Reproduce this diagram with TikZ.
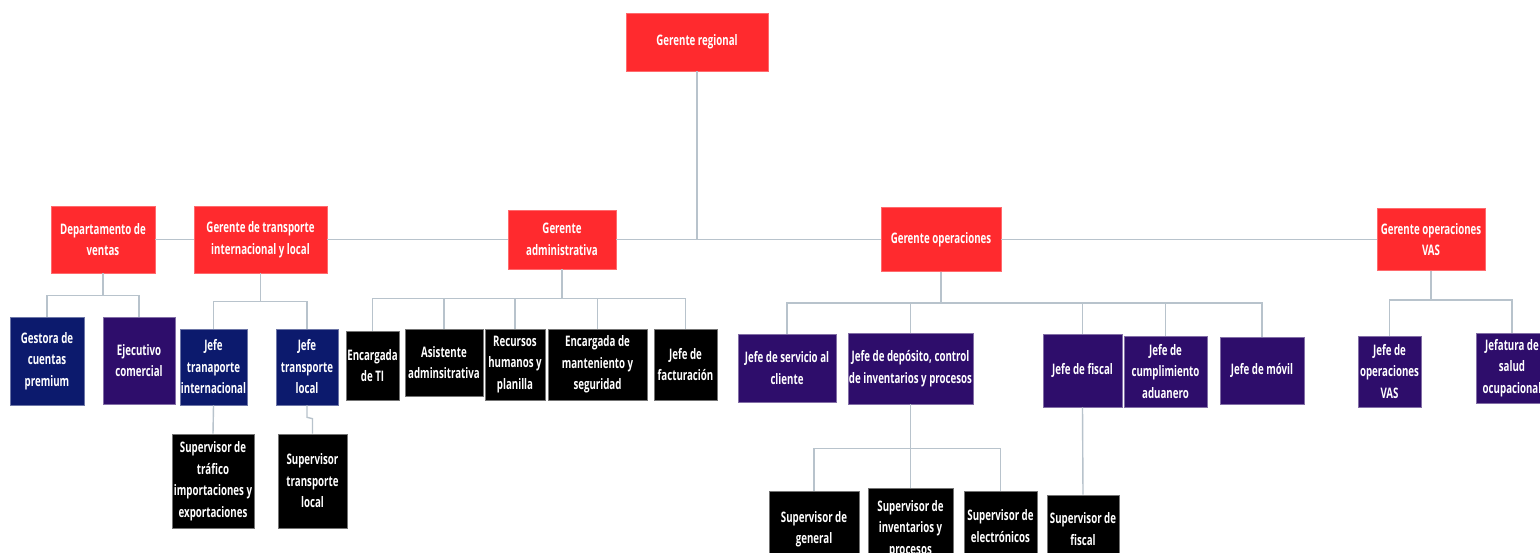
\documentclass[tikz,border=0pt]{standalone}
\usepackage{fontspec}
\setmainfont{Open Sans}[FakeStretch=0.67]
\begin{document}
\definecolor{mgrred}{HTML}{FF2A2E}
\definecolor{navyb}{HTML}{0C1A6D}
\definecolor{purpb}{HTML}{2E0D6B}
\definecolor{linec}{HTML}{B8C3CC}
\tikzset{
  box/.style={rectangle, inner sep=0pt, align=center, text=white,
    font=\fontsize{14.5}{21.5}\selectfont\bfseries, line width=0.6pt},
  redbox/.style={box, fill=mgrred, draw=mgrred!70!white},
  navybox/.style={box, fill=navyb, draw=navyb!60!white},
  purpbox/.style={box, fill=purpb, draw=purpb!60!white},
  blackbox/.style={box, fill=black, draw=black!55!white},
  conn/.style={draw=linec, line width=1.4pt},
}
\begin{tikzpicture}[x=1pt,y=-1pt]
\useasboundingbox (0,0) rectangle (1540,552);
\fill[white] (0,0) rectangle (1540,552);
\clip (0,0) rectangle (1540,552);

% top and management row
\node[redbox, minimum width=142, minimum height=58] (reg) at (697,42) {Gerente regional};
\node[redbox, minimum width=104, minimum height=67] (ventas) at (103,239.5) {Departamento de\\ventas};
\node[redbox, minimum width=133, minimum height=67] (transp) at (260.5,239.5) {Gerente de transporte\\internacional y local};
\node[redbox, minimum width=108, minimum height=59] (admin) at (562,239.5) {Gerente\\administrativa};
\node[redbox, minimum width=120, minimum height=64] (ops) at (941,239.5) {Gerente operaciones};
\node[redbox, minimum width=108, minimum height=62] (vas) at (1431,239.5) {Gerente operaciones\\VAS};

% sales
\node[navybox, minimum width=74, minimum height=88] (gestora) at (47,361) {Gestora de\\cuentas\\premium};
\node[purpbox, minimum width=72, minimum height=87] (ejec) at (139,360.5) {Ejecutivo\\comercial};

% transport
\node[navybox, minimum width=67, minimum height=76] (jti) at (213.5,367) {Jefe\\tranaporte\\internacional};
\node[navybox, minimum width=62, minimum height=76] (jtl) at (307,367) {Jefe\\transporte\\local};
\node[blackbox, minimum width=82, minimum height=94] (sti) at (213,481) {Supervisor de\\tr\'afico\\importaciones y\\exportaciones};
\node[blackbox, minimum width=69, minimum height=94] (stl) at (312.5,481) {Supervisor\\transporte\\local};

% administration
\node[blackbox, minimum width=53, minimum height=69] (ti) at (372.5,365.5) {Encargada\\de TI};
\node[blackbox, minimum width=78, minimum height=67] (asis) at (444,362.5) {Asistente\\adminsitrativa};
\node[blackbox, minimum width=60, minimum height=71] (rh) at (515,364.5) {Recursos\\humanos y\\planilla};
\node[blackbox, minimum width=99, minimum height=71] (mant) at (597.5,364.5) {Encargada de\\manteniento y\\seguridad};
\node[blackbox, minimum width=63, minimum height=71] (fact) at (685.5,364.5) {Jefe de\\facturaci\'on};

% operations
\node[purpbox, minimum width=98, minimum height=68] (serv) at (787,368) {Jefe de servicio al\\cliente};
\node[purpbox, minimum width=125, minimum height=71] (dep) at (910.5,368.5) {Jefe de dep\'osito, control\\de inventarios y procesos};
\node[purpbox, minimum width=79, minimum height=73] (fisc) at (1082.5,370.5) {Jefe de fiscal};
\node[purpbox, minimum width=83, minimum height=71] (adu) at (1165.5,371.5) {Jefe de\\cumplimiento\\aduanero};
\node[purpbox, minimum width=84, minimum height=67] (movil) at (1262,370.5) {Jefe de m\'ovil};

% VAS
\node[purpbox, minimum width=63, minimum height=71] (opsvas) at (1389.5,371.5) {Jefe de\\operaciones\\VAS};
\node[purpbox, minimum width=72, minimum height=70] (salud) at (1512,368) {Jefatura de\\salud\\ocupacional};

% supervisors (run past the lower edge)
\node[blackbox, minimum width=90, minimum height=76] (sgen) at (814,529) {Supervisor de\\general};
\node[blackbox, minimum width=85, minimum height=82] (sinv) at (910.5,529) {Supervisor de\\inventarios y\\procesos};
\node[blackbox, minimum width=73, minimum height=70] (selec) at (1000.5,526) {Supervisor de\\electr\'onicos};
\node[blackbox, minimum width=72, minimum height=68] (sfis) at (1083,529) {Supervisor de\\fiscal};

% connectors
\draw[conn] (reg.south) -- (reg.south |- admin.east);
\draw[conn] (ventas.east) -- (transp.west);
\draw[conn] (transp.east) -- (admin.west);
\draw[conn] (admin.east) -- (ops.west);
\draw[conn] (ops.east) -- (vas.west);

\draw[conn] (ventas.south) -- ++(0,22) -| (gestora.north);
\draw[conn] (ventas.south) -- ++(0,22) -| (ejec.north);
\draw[conn] (transp.south) -- ++(0,28) -| (jti.north);
\draw[conn] (transp.south) -- ++(0,28) -| (jtl.north);
\draw[conn] (jti.south) -- (sti.north);
\draw[conn] (jtl.south) -- ++(0,12) -- ([yshift=15pt]stl.north) -- (stl.north);

\foreach \n in {ti,asis,rh,mant,fact}
  \draw[conn] (admin.south) -- ++(0,29) -| (\n.north);
\foreach \n in {serv,dep,fisc,adu,movil}
  \draw[conn] (ops.south) -- ++(0,31) -| (\n.north);
\foreach \n in {opsvas,salud}
  \draw[conn] (vas.south) -- ++(0,29) -| (\n.north);
\foreach \n in {sgen,sinv,selec}
  \draw[conn] (dep.south) -- ++(0,44) -| (\n.north);
\draw[conn] (fisc.south) -- (sfis.north);
\end{tikzpicture}
\end{document}
